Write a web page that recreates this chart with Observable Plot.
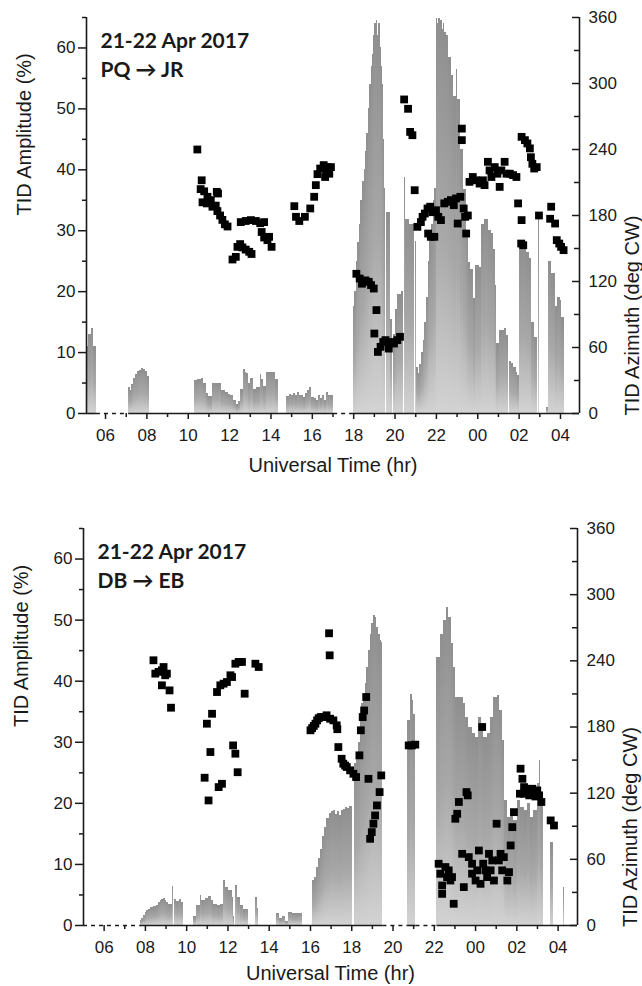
<!DOCTYPE html>
<html>
<head>
<meta charset="utf-8">
<script src="https://cdn.jsdelivr.net/npm/d3@7"></script>
<script src="https://cdn.jsdelivr.net/npm/@observablehq/plot@0.6"></script>
<style>
  html, body { margin: 0; padding: 0; background: #fff; }
  #chart svg { display: block; }
</style>
</head>
<body>
<div id="chart"></div>
<script>
// ---------- DATA ----------
// Amplitude (%) : [hour UT (hours past 00 on 21 Apr), value]; value null = end of a run of bars
const amp1 = [
  [5.08,11],[5.2,13],[5.32,14],[5.44,11],[5.56,null],
  [7.13,4.2],[7.2,3.8],[7.27,4.8],[7.35,5.8],[7.45,6.4],[7.55,6.9],[7.65,7.1],[7.75,7.4],[7.85,7.3],[7.95,6.9],[8.05,6.1],[8.15,null],
  [10.28,5.4],[10.45,5.6],[10.65,5.7],[10.73,4.9],[10.89,3.3],[11.0,2.8],[11.09,2.8],[11.18,4.9],[11.62,3.8],[11.78,3.4],[11.95,3.2],[12.05,3.0],[12.19,2.2],[12.35,1.4],[12.45,2.0],[12.54,3.9],[12.67,7.2],[12.75,6.8],[12.83,6.5],[12.9,5.0],[13.0,5.7],[13.15,3.9],[13.32,4.2],[13.48,6.4],[13.56,5.5],[13.64,4.5],[13.8,6.7],[14.0,6.8],[14.2,5.5],[14.37,null],
  [14.77,2.8],[14.9,3.2],[15.0,3.0],[15.1,3.3],[15.2,2.9],[15.3,3.4],[15.4,3.0],[15.55,2.6],[15.65,3.3],[15.75,3.8],[15.85,4.3],[15.95,2.7],[16.1,2.4],[16.2,2.2],[16.3,2.9],[16.4,2.4],[16.5,3.0],[16.6,2.2],[16.7,3.4],[16.8,3.0],[16.9,2.9],[17.03,null],
  [18.0,17.5],[18.06,20],[18.13,25],[18.2,28],[18.27,31],[18.35,35],[18.42,38],[18.5,40],[18.57,43],[18.63,46],[18.7,50],[18.77,54],[18.84,57],[18.9,59],[18.96,62],[19.02,64],[19.08,63],[19.12,64.5],[19.17,62],[19.22,64],[19.28,60],[19.33,57],[19.37,54],[19.42,45],[19.48,37],[19.54,null],
  [19.58,33],[19.76,15.5],[19.9,null],
  [19.94,13],[20.04,17],[20.12,19.5],[20.3,20],[20.42,null],
  [20.46,38.7],[20.53,31.8],[20.72,31],[20.93,null],
  [20.97,28.2],[21.04,7.5],[21.12,6.5],[21.2,8],[21.28,10],[21.36,12],[21.44,15],[21.52,19],[21.6,25],[21.68,29],[21.76,31],[21.84,35],[21.92,37],[21.99,64.8],[22.05,64],[22.1,64.8],[22.2,64.5],[22.28,63],[22.34,64],[22.4,62.5],[22.5,62],[22.6,58.5],[22.72,55.4],[22.84,52],[22.95,56.5],[23.02,51.6],[23.15,43.4],[23.3,36.8],[23.45,30],[23.55,24.8],[23.65,23.7],[23.78,18.8],[23.9,24.3],[24.1,24],[24.18,31],[24.33,31.9],[24.5,30],[24.66,29.5],[24.78,27],[24.85,21],[24.93,11.5],[25.05,13.6],[25.3,13.9],[25.4,12.8],[25.48,null],
  [25.52,8.5],[25.62,8.2],[25.72,7.6],[25.85,6.8],[25.92,6.2],[26.02,27.8],[26.35,26.5],[26.5,25.5],[26.6,15],[26.75,12.5],[26.9,null],
  [26.92,32],[26.97,null],
  [27.32,1],[27.43,25],[27.58,23],[27.74,17.5],[27.87,19],[27.98,18.6],[28.06,15.8],[28.19,null]
];
const amp2 = [
  [7.75,0.8],[7.83,1.2],[7.91,1.6],[7.99,2.1],[8.07,2.5],[8.15,2.7],[8.23,2.9],[8.39,3.1],[8.56,3.3],[8.65,3.7],[8.72,4.1],[8.8,4.3],[8.88,4.4],[8.96,4.1],[9.04,3.8],[9.12,3.5],[9.3,6.4],[9.35,3.6],[9.38,null],
  [9.42,4.3],[9.53,4.0],[9.65,4.2],[9.75,3.8],[9.85,null],
  [10.34,1.4],[10.5,3.3],[10.66,4.9],[10.74,4.1],[10.9,4.4],[11.06,4.7],[11.18,4.1],[11.31,3.5],[11.47,3.3],[11.63,3.5],[11.79,7.4],[11.87,6.3],[12.04,5.7],[12.2,4.6],[12.28,1.4],[12.33,null],
  [12.37,6.5],[12.44,4.6],[12.6,3.3],[12.76,2.7],[13.0,null],
  [13.33,4.6],[13.41,2.8],[13.49,null],
  [14.35,1.9],[14.51,1.1],[14.62,1.4],[14.79,0.7],[14.95,2.2],[15.11,1.9],[15.43,2.0],[15.6,null],
  [16.08,7.4],[16.2,7.8],[16.3,9.5],[16.4,11],[16.5,12.5],[16.6,14.5],[16.7,16],[16.8,17.5],[16.9,18.3],[17.0,18.6],[17.1,18.8],[17.2,18.2],[17.3,18.6],[17.4,18.0],[17.5,18.8],[17.6,19.0],[17.7,19.4],[17.8,19.2],[17.9,19.5],[18.04,null],
  [18.12,26.5],[18.24,28],[18.32,30],[18.41,33.5],[18.49,36.3],[18.57,37.9],[18.65,39.6],[18.73,42.3],[18.81,45],[18.89,47.7],[18.97,49.4],[19.05,50.7],[19.13,50.5],[19.22,48.8],[19.3,47.7],[19.38,46.6],[19.46,46.4],[19.51,null],
  [20.71,33.5],[20.84,37.9],[20.92,36.8],[21.0,34.6],[21.11,null],
  [22.13,43.9],[22.29,47.7],[22.46,49.9],[22.59,52.1],[22.7,50.5],[22.81,46.1],[22.94,42.3],[23.02,37.4],[23.25,null],
  [23.29,37.4],[23.43,36.3],[23.51,34.1],[23.67,32.5],[23.83,31.4],[24.0,30.8],[24.16,34.1],[24.27,32.5],[24.4,30.8],[24.56,31.4],[24.73,34.1],[24.89,37.4],[25.05,37.6],[25.16,35.2],[25.29,30.3],[25.41,20.5],[25.54,17.7],[25.7,18.8],[25.86,17.2],[26.02,20.5],[26.18,19.4],[26.35,18.8],[26.51,19.9],[26.67,17.7],[26.83,18.8],[26.99,23.2],[27.08,27],[27.14,20.5],[27.27,null],
  [27.64,13.6],[27.8,null],
  [28.24,6.3],[28.32,null]
];
// Azimuth (deg CW) : [hour UT, azimuth]
const az1 = [
  [10.44,240],[10.6,204],[10.65,212],[10.69,192],[10.77,202],[10.9,191],[10.93,197],[11.09,194],[11.17,188],[11.33,189],[11.38,201.5],[11.44,200],[11.41,184],[11.54,180],[11.65,176],[11.77,172],[11.9,170],
  [12.14,140],[12.3,142.4],[12.38,151.5],[12.51,154],[12.62,151],[12.78,149],[12.95,147],[13.06,145],
  [12.54,174],[12.78,175],[13.03,175.8],[13.27,175],[13.48,173],[13.67,174],[13.55,165],[13.67,160],[13.83,157.6],[13.91,160.6],[14.03,151.5],
  [15.13,188.5],[15.21,178.8],[15.37,175],[15.64,178.8],[15.9,186.4],[16.09,197],[16.17,207.6],[16.25,217.6],[16.38,222.7],[16.55,225.8],[16.71,224],[16.82,218],[16.67,221],[16.9,224],[16.62,215],
  [18.13,127],[18.29,122.7],[18.4,118],[18.57,121],[18.73,119.7],[18.84,116.7],[18.97,113.6],[19.1,94],[19.0,72.7],[19.17,56],[19.3,60.6],[19.43,65],[19.54,66.7],[19.7,59],[19.79,65],[19.95,63.6],[20.11,66.7],[20.24,69.7],
  [20.44,285.5],[20.63,277],[20.73,256],[20.84,253],[20.95,203],
  [21.08,169.7],[21.25,174],[21.33,178.8],[21.44,181.8],[21.57,186.4],[21.7,188],[21.81,183],[21.6,163.6],[21.73,160.6],[21.9,160.6],[21.98,184.8],[22.09,178.8],[22.22,175.8],[22.38,191],[22.55,192.4],[22.7,194],[22.84,189.4],[22.95,195.5],[23.03,172.7],[23.16,197],[23.23,259],[23.23,248.5],[23.32,186.4],[23.39,178.8],[23.44,163.6],[23.52,180],
  [23.6,210.6],[23.76,215],[23.93,212],[24.09,209],[24.25,212],[24.33,207.6],[24.49,228.8],[24.57,221],[24.66,215],[24.82,224],[24.95,218],[25.06,206],[25.14,221],[25.3,228.8],[25.39,218],[25.55,218],[25.71,216.7],[25.87,215],
  [25.95,191],[26.12,175.8],[26.1,154.5],[26.2,153],[26.12,251.5],[26.28,248.5],[26.4,245.5],[26.52,241],[26.57,233],[26.64,227],[26.73,222.7],[26.85,224],
  [26.96,180],[27.55,188],[27.5,177],[27.74,172.7],[27.82,157.6],[27.94,154.5],[28.03,151.5],[28.15,148.5]
];
const az2 = [
  [8.39,240.5],[8.48,228.4],[8.64,230],[8.8,231.4],[8.88,234.4],[8.96,226.9],[9.04,228.4],[8.8,217.8],[9.17,213.2],[9.24,197.5],
  [10.87,134],[10.98,183],[11.06,113.4],[11.15,157.3],[11.23,192],
  [11.55,125.5],[11.71,128.5],[11.47,211.7],[11.63,217.8],[11.79,219.3],[11.95,220.8],[12.12,226.9],[12.2,225.3],[12.25,163.3],[12.36,155.8],[12.47,139],[12.36,237.4],[12.52,239],[12.68,239],[12.81,210.2],
  [13.33,237.4],[13.49,234.4],
  [16.0,177],[16.08,179],[16.16,181],[16.24,183],[16.32,186],[16.4,188],[16.5,189],[16.62,189],[16.78,190.6],[16.95,187.5],[17.11,186],[17.27,181.5],[17.3,178],[16.9,265],[16.93,245],
  [17.35,161.8],[17.51,151.2],[17.59,146.7],[17.68,145],[17.76,143.7],[17.92,140.7],[18.08,137.6],[18.21,134.6],[18.37,154.3],[18.44,177],[18.53,189],[18.6,195],[18.7,207.2],[18.81,133],[18.89,78.6],[18.97,84.7],[19.05,92.3],[19.13,99.8],[19.22,108.9],[19.35,121],[19.43,136.1],
  [20.76,163.3],[20.92,163.3],[21.08,164],
  [22.21,56],[22.29,46.9],[22.38,36.3],[22.38,28.7],[22.54,53],[22.62,43.9],[22.7,50],[22.78,40.8],[22.86,43.9],[22.94,19.7],[23.02,96.8],[23.11,101.3],[23.19,112],[23.35,65],[23.43,34.8],[23.56,121],[23.62,118],[23.67,62],[23.83,56],[23.83,47],[24.0,40.8],[24.08,50],[24.16,68],[24.24,37.8],[24.32,180],[24.37,56],[24.48,50],[24.56,43.9],[24.65,65],[24.73,50],[24.81,59],[24.89,40.8],[25.02,92.3],[25.13,59],[25.21,65],[25.29,50],[25.37,62],[25.54,40.8],[25.62,48.4],[25.7,72.6],[25.78,89.2],[25.86,102.8],
  [26.18,142.2],[26.27,133],[26.15,119.5],[26.35,125.5],[26.51,121],[26.67,122.5],[26.83,119.5],[26.99,122.5],[27.08,118],[27.19,112],[26.35,119.5],[26.43,124],[26.6,118],[26.75,124],[26.9,117],
  [27.64,95.3],[27.8,90.7]
];
// Data gaps (drawn as a dashed baseline)
const gaps1 = [[5.56,7.13],[17.03,18.0]];
const gaps2 = [[5.0,7.75],[19.51,20.71],[21.11,22.13]];
// Titles
const title1 = ["21-22 Apr 2017", "PQ \u2192 JR"];
const title2 = ["21-22 Apr 2017", "DB \u2192 EB"];
// Ticks
const hourTicks = [6,8,10,12,14,16,18,20,22,24,26,28];
const hourMinor = [7,9,11,13,15,17,19,21,23,25,27];
const ampTicks = [0,10,20,30,40,50,60];
const ampMinor = [5,15,25,35,45,55,65];
const azTicks = [0,60,120,180,240,300,360];
const azMinor = [30,90,150,210,270,330];
const AMP_MAX = 65, AZ_MAX = 360;

// ---------- CHART ----------
const K = AMP_MAX / AZ_MAX; // azimuth -> amplitude axis units
const INK = "#1a1a1a";

function toBars(amp) {
  const out = [];
  for (let i = 0; i < amp.length - 1; i++) {
    if (amp[i][1] != null) out.push({x1: amp[i][0], x2: amp[i + 1][0], v: amp[i][1]});
  }
  return out;
}
function solidSegments(domain, gaps) {
  const segs = [];
  let s = domain[0];
  for (const [a, b] of gaps) {
    if (a > s) segs.push([s, a]);
    s = Math.max(s, b);
  }
  if (s < domain[1]) segs.push([s, domain[1]]);
  return segs;
}

function panel(cfg) {
  const {amp, az, gaps, title, domain, height, marginLeft, marginRight, marginTop, marginBottom, gid, xLabelDy} = cfg;
  const xEnd = domain[1];
  const defs = () => {
    const d = d3.create("svg:defs");
    const g = d.append("linearGradient").attr("id", gid)
      .attr("x1", 0).attr("y1", 0).attr("x2", 0).attr("y2", 1);
    g.append("stop").attr("offset", "0%").attr("stop-color", "#8f8f8f");
    g.append("stop").attr("offset", "55%").attr("stop-color", "#a8a8a8");
    g.append("stop").attr("offset", "100%").attr("stop-color", "#d3d3d3");
    return d.node();
  };
  return Plot.plot({
    width: 642, height, marginLeft, marginRight, marginTop, marginBottom,
    x: {domain, label: null},
    y: {domain: [0, AMP_MAX], label: null},
    style: {fontFamily: "'Liberation Sans', Arial, sans-serif", fontSize: "17px", color: INK, background: "#fff"},
    marks: [
      defs,
      Plot.rectY(toBars(amp), {x1: "x1", x2: "x2", y: "v", fill: `url(#${gid})`, shapeRendering: "crispEdges"}),
      Plot.dot(az, {x: d => d[0], y: d => d[1] * K, symbol: "square", r: 4.4, fill: "#000", stroke: "none"}),
      Plot.ruleY(solidSegments(domain, gaps), {x1: d => d[0], x2: d => d[1], y: 0, stroke: INK, strokeWidth: 1.6}),
      Plot.ruleY(gaps, {x1: d => d[0], x2: d => d[1], y: 0, stroke: INK, strokeWidth: 1.6, strokeDasharray: "4,4"}),
      Plot.ruleX([domain[0], domain[1]], {y1: 0, y2: AMP_MAX, stroke: INK, strokeWidth: 1.6}),
      Plot.axisX(hourTicks, {tickSize: 6, tickPadding: 9, strokeWidth: 1.5, tickFormat: d => String(d % 24).padStart(2, "0")}),
      Plot.axisX(hourMinor, {tickSize: 4, strokeWidth: 1.5, tickFormat: () => ""}),
      Plot.axisY(ampTicks, {anchor: "left", tickSize: 8, tickPadding: 3, strokeWidth: 1.5}),
      Plot.axisY(ampMinor, {anchor: "left", tickSize: 4, strokeWidth: 1.5, tickFormat: () => ""}),
      // right (azimuth) axis: ticks point inward
      Plot.ruleY(azTicks, {y: a => a * K, x1: xEnd, x2: xEnd, insetLeft: -7, stroke: INK, strokeWidth: 1.5}),
      Plot.ruleY(azMinor, {y: a => a * K, x1: xEnd, x2: xEnd, insetLeft: -5, stroke: INK, strokeWidth: 1.5}),
      Plot.axisY(azTicks.map(a => a * K), {anchor: "right", tickSize: 0, tickPadding: 9, tickFormat: d => String(Math.round(d / K))}),
      Plot.text([title.join("\n")], {frameAnchor: "top-left", textAnchor: "start", lineAnchor: "top", dx: 14, dy: 10,
        lineHeight: 1.38, fontSize: 21, fontWeight: "bold", fontFamily: "Lato, 'Noto Sans', sans-serif", fill: INK}),
      Plot.text(["TID Amplitude (%)"], {frameAnchor: "left", dx: -62, rotate: -90, fontSize: 20, fill: INK}),
      Plot.text(["TID Azimuth (deg CW)"], {frameAnchor: "right", dx: 53, rotate: -90, fontSize: 20, fill: INK}),
      Plot.text(["Universal Time (hr)"], {frameAnchor: "bottom", dy: xLabelDy, lineAnchor: "middle", fontSize: 20, fill: INK})
    ]
  });
}

const chart = document.getElementById("chart");
chart.append(panel({amp: amp1, az: az1, gaps: gaps1, title: title1, domain: [5.08, 28.92],
  height: 493, marginLeft: 86, marginRight: 63, marginTop: 17, marginBottom: 80, gid: "ampGrad1", xLabelDy: 52}));
chart.append(panel({amp: amp2, az: az2, gaps: gaps2, title: title2, domain: [5.0, 28.94],
  height: 493, marginLeft: 83, marginRight: 65, marginTop: 35, marginBottom: 61, gid: "ampGrad2", xLabelDy: 48}));
</script>
</body>
</html>
